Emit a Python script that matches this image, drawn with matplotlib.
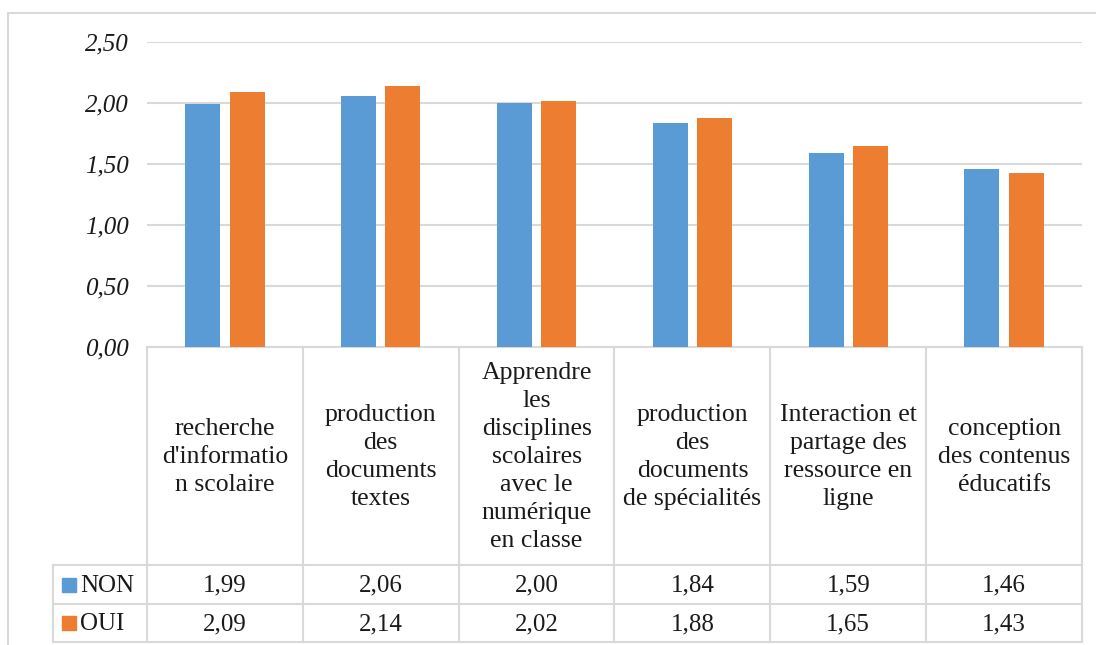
import matplotlib
matplotlib.use("Agg")
import matplotlib.pyplot as plt
from matplotlib.patches import Rectangle
import numpy as np

categories = [
    "recherche\nd'informatio\nn scolaire",
    "production\ndes\ndocuments\ntextes",
    "Apprendre\nles\ndisciplines\nscolaires\navec le\nnumérique\nen classe",
    "production\ndes\ndocuments\nde spécialités",
    "Interaction et\npartage des\nressource en\nligne",
    "conception\ndes contenus\néducatifs",
]
series_names = ["NON", "OUI"]
non_values = [1.99, 2.06, 2.00, 1.84, 1.59, 1.46]
oui_values = [2.09, 2.14, 2.02, 1.88, 1.65, 1.43]
yticks = [0.0, 0.5, 1.0, 1.5, 2.0, 2.5]

colors = ["#5B9BD5", "#ED7D31"]
grid_c = "#D9D9D9"
FONT = "Liberation Serif"
TXT = "#1a1a1a"

W, H = 1096, 645
fig = plt.figure(figsize=(W / 100, H / 100), dpi=100)

def frac(x0, y0, x1, y1):
    return [x0 / W, 1 - y1 / H, (x1 - x0) / W, (y1 - y0) / H]

# outer frame
fig.patches.append(Rectangle((8 / W, -0.1), 2.0, 1 - 13 / H + 0.1, transform=fig.transFigure,
                             fill=False, edgecolor=grid_c, linewidth=1.5))

# plot area
px_l, px_r, py_t, py_b = 147, 1082, 42, 347
ax = fig.add_axes(frac(px_l, py_t, px_r, py_b))
n = len(categories)
x = np.arange(n)
bw = 0.225
ax.bar(x - 0.142, non_values, bw, color=colors[0], zorder=3)
ax.bar(x + 0.142, oui_values, bw, color=colors[1], zorder=3)
ax.set_xlim(-0.5, n - 0.5)
ax.set_ylim(0, 2.5)
ax.set_yticks(yticks)
ax.set_yticklabels([f"{t:.2f}".replace(".", ",") for t in yticks],
                   fontfamily=FONT, fontstyle="italic", fontsize=18, color=TXT)
ax.tick_params(axis="y", length=0, pad=13)
ax.tick_params(axis="x", length=0, labelbottom=False)
for s in ["top", "right", "left"]:
    ax.spines[s].set_visible(False)
ax.spines["bottom"].set_color(grid_c)
ax.spines["bottom"].set_linewidth(1.5)
ax.yaxis.grid(True, color=grid_c, linewidth=1.5, zorder=0)
ax.set_axisbelow(True)

# data table
tl, tr, tt, tb = 53, 1082, 347, 642
cat_w = (px_r - px_l) / n
left_ext = (px_l - tl) / cat_w
tax = fig.add_axes(frac(tl, tt, tr, tb))
tax.set_xlim(-0.5 - left_ext, n - 0.5)
tax.set_ylim(tb - tt, 0)
tax.axis("off")
r1, r2, r3 = 565 - tt, 604 - tt, 642 - tt
lc = dict(color=grid_c, linewidth=1.5, clip_on=False)
for b in np.arange(n + 1) - 0.5:
    tax.plot([b, b], [0, r3], **lc)
tax.plot([-0.5 - left_ext] * 2, [r1, r3], **lc)
for yy in [r1, r2, r3]:
    tax.plot([-0.5 - left_ext, n - 0.5], [yy, yy], **lc)

for i, c in enumerate(categories):
    tax.text(i, r1 / 2 + 1, c, ha="center", va="center", fontfamily=FONT,
             fontsize=18.5, linespacing=1.35, color=TXT)
for row, (vals, name, col) in enumerate(zip([non_values, oui_values], series_names, colors)):
    yc = (r1 + r2) / 2 if row == 0 else (r2 + r3) / 2
    for i, v in enumerate(vals):
        tax.text(i, yc + 1, f"{v:.2f}".replace(".", ","), ha="center", va="center",
                 fontfamily=FONT, fontsize=18, color=TXT)
    lx = -0.5 - left_ext + 9 / cat_w
    tax.add_patch(Rectangle((lx, yc - 7), 14 / cat_w, 14, color=col, clip_on=False))
    tax.text(-0.5 - left_ext + 27 / cat_w, yc + 1, name, ha="left", va="center",
             fontfamily=FONT, fontsize=18, color=TXT)

fig.savefig("out.png", dpi=100)
